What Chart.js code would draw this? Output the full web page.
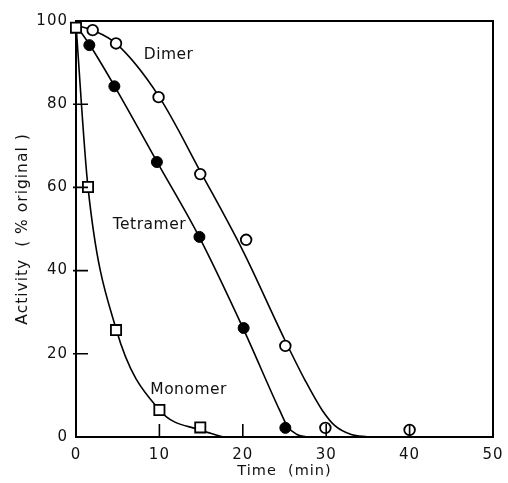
<!DOCTYPE html>
<html>
<head>
<meta charset="utf-8">
<script src="https://cdn.jsdelivr.net/npm/chart.js@4.4.1/dist/chart.umd.min.js"></script>
<style>
html,body{margin:0;padding:0;background:#fff;}
#c{display:block;}
</style>
</head>
<body>
<canvas id="c" width="508" height="483"></canvas>
<script>
// ---- data ----
const xTicks = [0, 10, 20, 30, 40, 50];
const yTicks = [0, 20, 40, 60, 80, 100];

const dimerTime = [2.0, 4.8, 9.9, 14.9, 20.4, 25.1, 29.9, 40.0];
const dimerActivity = [97.8, 94.6, 81.7, 63.2, 47.4, 21.9, 2.2, 1.7];

const tetramerTime = [1.6, 4.6, 9.7, 14.8, 20.1, 25.1];
const tetramerActivity = [94.2, 84.3, 66.1, 48.1, 26.2, 2.2];

const monomerTime = [0, 1.44, 4.8, 10.0, 14.9];
const monomerActivity = [98.4, 60.1, 25.7, 6.5, 2.3];

// fitted curves as drawn in the figure
const dimerCurveTime = [0, 2.0, 4.8, 9.9, 15.0, 20.0, 25.0, 27.5, 29.5, 31.0, 33.0, 35.0];
const dimerCurveActivity = [99, 97.8, 94.6, 82.0, 63.5, 44.8, 23.5, 13.5, 6.5, 2.8, 0.6, 0];

const tetramerCurveTime = [0, 1.6, 4.6, 9.7, 14.8, 20.0, 24.4, 25.4, 26.5, 27.6];
const tetramerCurveActivity = [99, 94.4, 84.4, 66.2, 48.0, 26.3, 6.5, 2.4, 0.6, 0];

const monomerCurveTime = [0, 1.44, 4.8, 10.0, 15.0, 17.7];
const monomerCurveActivity = [99, 60, 26, 6.5, 1.6, 0];

const labels = [
  {text: 'Dimer', x: 11.1, y: 91.8},
  {text: 'Tetramer', x: 8.8, y: 51.0},
  {text: 'Monomer', x: 13.5, y: 11.3}
];

const pts = (xs, ys) => xs.map((x, i) => ({x: x, y: ys[i]}));

const curveStyle = {
  showLine: true, borderColor: '#000', borderWidth: 1.6, pointRadius: 0,
  cubicInterpolationMode: 'monotone', fill: false, order: 2
};

const frameAndLabels = {
  id: 'frameAndLabels',
  beforeDraw(chart) {
    chart.ctx.letterSpacing = '1px';
  },
  afterDatasetsDraw(chart) {
    const ctx = chart.ctx;
    const {left, right, top, bottom} = chart.chartArea;
    const xs = chart.scales.x, ys = chart.scales.y;
    ctx.save();
    ctx.strokeStyle = '#000';
    ctx.lineWidth = 2;
    ctx.beginPath();
    ctx.moveTo(left, top); ctx.lineTo(right, top); ctx.lineTo(right, bottom);
    ctx.stroke();
    ctx.lineWidth = 1.6;
    ctx.beginPath();
    yTicks.slice(1, -1).forEach(v => {
      const py = ys.getPixelForValue(v);
      ctx.moveTo(left - 3, py); ctx.lineTo(left + 12, py);
    });
    xTicks.slice(1, -1).forEach(v => {
      const px = xs.getPixelForValue(v);
      ctx.moveTo(px, bottom); ctx.lineTo(px, bottom - 13);
    });
    ctx.stroke();
    ctx.letterSpacing = '0.5px';
    ctx.fillStyle = '#111';
    ctx.font = '15.5px "DejaVu Sans"';
    ctx.textAlign = 'center';
    ctx.textBaseline = 'middle';
    labels.forEach(l => {
      ctx.fillText(l.text, xs.getPixelForValue(l.x), ys.getPixelForValue(l.y));
    });
    ctx.restore();
  }
};

new Chart(document.getElementById('c'), {
  type: 'scatter',
  data: {
    datasets: [
      Object.assign({label: 'Dimer fit', data: pts(dimerCurveTime, dimerCurveActivity)}, curveStyle),
      Object.assign({label: 'Tetramer fit', data: pts(tetramerCurveTime, tetramerCurveActivity)}, curveStyle),
      Object.assign({label: 'Monomer fit', data: pts(monomerCurveTime, monomerCurveActivity)}, curveStyle),
      {label: 'Dimer', data: pts(dimerTime, dimerActivity), pointStyle: 'circle', pointRadius: 5.3,
       backgroundColor: '#fff', borderColor: '#000', borderWidth: 1.8, order: 0, clip: false},
      {label: 'Tetramer', data: pts(tetramerTime, tetramerActivity), pointStyle: 'circle', pointRadius: 5.5,
       backgroundColor: '#000', borderColor: '#000', borderWidth: 1, order: 0, clip: false},
      {label: 'Monomer', data: pts(monomerTime, monomerActivity), pointStyle: 'rect', pointRadius: 7.2,
       backgroundColor: '#fff', borderColor: '#000', borderWidth: 1.8, order: 0, clip: false}
    ]
  },
  options: {
    responsive: false,
    animation: false,
    events: [],
    layout: {padding: {left: 0, right: 15, top: 21, bottom: 0}},
    plugins: {legend: {display: false}, tooltip: {enabled: false}},
    scales: {
      x: {
        type: 'linear', min: 0, max: 50,
        afterFit(s) { s.height = 46; s.paddingLeft = 0; s.paddingRight = 0; },
        afterBuildTicks(s) { s.ticks = xTicks.map(v => ({value: v})); },
        grid: {display: false, drawTicks: false},
        border: {display: true, color: '#000', width: 2},
        ticks: {color: '#111', padding: 9, font: {family: 'DejaVu Sans', size: 15}, maxRotation: 0},
        title: {display: true, text: 'Time  (min)', color: '#111',
                font: {family: 'DejaVu Sans', size: 14.5}, padding: {top: 0, bottom: 3}}
      },
      y: {
        type: 'linear', min: 0, max: 100,
        afterFit(s) { s.width = 76; s.paddingTop = 0; s.paddingBottom = 0; },
        afterBuildTicks(s) { s.ticks = yTicks.map(v => ({value: v})); },
        grid: {display: false, drawTicks: false},
        border: {display: true, color: '#000', width: 2},
        ticks: {color: '#111', padding: 8, font: {family: 'DejaVu Sans', size: 15}},
        title: {display: true, text: 'Activity  ( % original )', color: '#111',
                font: {family: 'DejaVu Sans', size: 15.5}, padding: {top: 14, bottom: 0}}
      }
    }
  },
  plugins: [frameAndLabels]
});
</script>
</body>
</html>
